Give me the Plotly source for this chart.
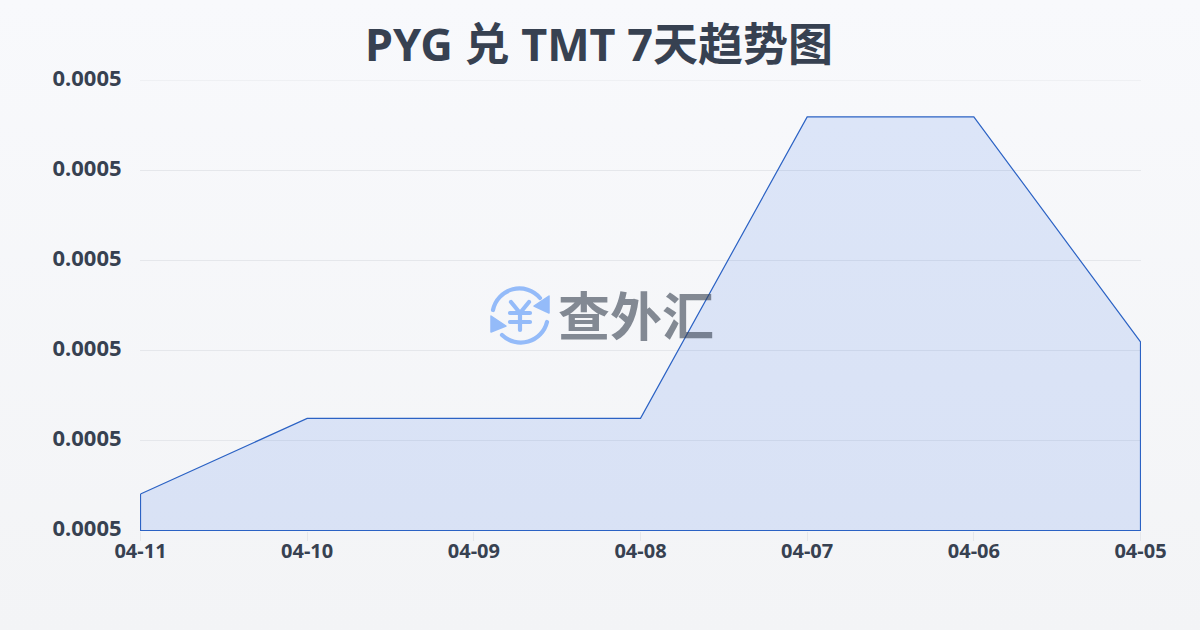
import urllib.parse
import plotly.graph_objects as go

title_text = "PYG 兑 TMT 7天趋势图"
watermark_text = "查外汇"
dates = ["04-11", "04-10", "04-09", "04-08", "04-07", "04-06", "04-05"]
rates = [0.000464, 0.0004724, 0.0004724, 0.0004724, 0.0005059, 0.0005059, 0.0004809]
y_ticks = [0.00046, 0.00047, 0.00048, 0.00049, 0.00050, 0.00051]
y_max = y_ticks[-1]
y_base = y_ticks[0] - 5.6e-8
y_floor = y_ticks[0] - 1.11e-7

W, H = 1200, 630
L, R, T, B = 140, 59, 80, 99
PW, PH = W - L - R, H - T - B
INK = "#374151"
FONT = "'Noto Sans', 'Noto Sans CJK SC', sans-serif"
CJK = "'Noto Sans CJK SC', 'Noto Sans', sans-serif"


def svg_uri(svg):
    return "data:image/svg+xml," + urllib.parse.quote(svg)


bg_svg = (
    "<svg xmlns='http://www.w3.org/2000/svg' width='1200' height='630' preserveAspectRatio='none'>"
    "<defs><linearGradient id='g' x1='0' y1='0' x2='0' y2='1'>"
    "<stop offset='0' stop-color='#f8f9fc'/><stop offset='1' stop-color='#f3f4f6'/>"
    "</linearGradient></defs><rect width='1200' height='630' fill='url(#g)'/></svg>"
)

logo_svg = (
    "<svg xmlns='http://www.w3.org/2000/svg' width='64' height='64' viewBox='0 0 64 64'>"
    "<g fill='none' stroke='#94bbf9' stroke-width='4.2' stroke-linecap='round' stroke-linejoin='round'>"
    "<path d='M5 27 A27 27 0 0 1 52 15'/>"
    "<path d='M59 39 A27 27 0 0 1 14 52'/>"
    "<path d='M23 19 L32 30 L41 19 M22 30 H42 M22 39 H42 M32 30 V47'/>"
    "</g>"
    "<path d='M61 13 L61 30 L46 23 Z' fill='#94bbf9' stroke='#94bbf9' stroke-width='1.5' stroke-linejoin='round'/>"
    "<path d='M3 33 L3 49 L18 43 Z' fill='#94bbf9' stroke='#94bbf9' stroke-width='1.5' stroke-linejoin='round'/>"
    "</svg>"
)


def fx(px):
    return (px - L) / PW


def fy(py):
    return 1 - (py - T) / PH


fig = go.Figure()
fig.add_trace(go.Scatter(
    x=dates + [dates[-1], dates[0], dates[0]],
    y=rates + [y_base, y_base, rates[0]],
    mode="lines",
    fill="toself",
    fillcolor="rgba(37,99,235,0.13)",
    line=dict(color="#2b62c4", width=1.2),
    cliponaxis=False,
    hoverinfo="skip",
    showlegend=False,
))

fig.update_layout(
    width=W, height=H,
    margin=dict(l=L, r=R, t=T, b=B),
    paper_bgcolor="#f6f7f9",
    plot_bgcolor="rgba(0,0,0,0)",
    showlegend=False,
    title=dict(
        text=f"<b>{title_text}</b>",
        x=599 / W, xanchor="center", y=1 - 45 / H, yanchor="middle",
        font=dict(family=FONT, size=45, color=INK),
    ),
    shapes=[dict(type="line", xref="paper", x0=0, x1=1, yref="y", y0=y_max, y1=y_max,
                 line=dict(color="#e5e7eb", width=1), layer="below")],
    images=[
        dict(source=svg_uri(bg_svg), xref="paper", yref="paper", x=fx(0), y=fy(0),
             sizex=W / PW, sizey=H / PH, sizing="stretch", xanchor="left", yanchor="top",
             layer="below"),
        dict(source=svg_uri(logo_svg), xref="paper", yref="paper", x=fx(488), y=fy(283),
             sizex=64 / PW, sizey=64 / PH, sizing="stretch", xanchor="left", yanchor="top",
             layer="above"),
    ],
    annotations=[dict(
        text=f"<b>{watermark_text}</b>", xref="paper", yref="paper",
        x=fx(636), y=fy(313), xanchor="center", yanchor="middle", showarrow=False,
        font=dict(family=CJK, size=52, color="#374151"), opacity=0.6,
    )],
    xaxis=dict(
        type="category", categoryorder="array", categoryarray=dates,
        range=[-0.003, len(dates) - 1 + 0.003],
        showgrid=False, zeroline=False, showline=False,
        ticks="outside", ticklen=9, tickwidth=1, tickcolor="#e5e7eb",
        ticklabelstandoff=-7,
        tickfont=dict(family=FONT, size=20, color=INK, weight="bold"),
    ),
    yaxis=dict(
        range=[y_floor, y_max],
        tickvals=y_ticks, tickformat=".4f",
        showgrid=True, gridcolor="#e5e7eb", gridwidth=1,
        zeroline=False, showline=False,
        ticks="outside", ticklen=13, tickcolor="rgba(0,0,0,0)",
        ticklabelshift=-2,
        tickfont=dict(family=FONT, size=22, color=INK, weight="bold"),
    ),
)

fig.write_html("out.html", config={"displayModeBar": False},
               post_script="document.body.style.margin='0';")
